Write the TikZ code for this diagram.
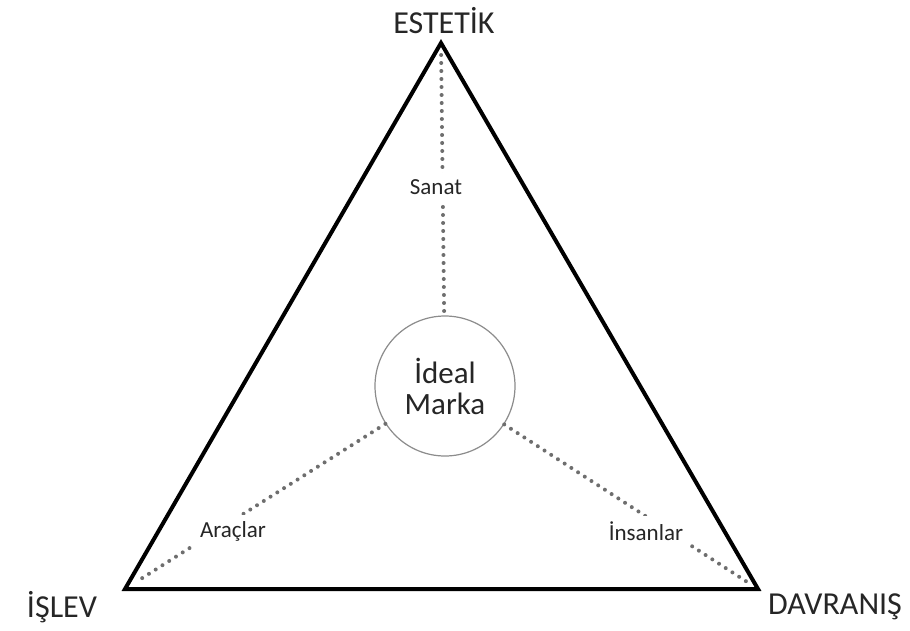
\documentclass[tikz,border=0pt]{standalone}
\usepackage{fontspec}
\setmainfont{Carlito}
\usepackage{tikz}
\definecolor{dot_gray}{RGB}{110, 110, 110}
\definecolor{ring_gray}{RGB}{140, 140, 140}
\tikzstyle{corner}=[font=\fontsize{32}{36}\selectfont,inner sep=0pt,text=black!85]
\tikzstyle{tag}=[font=\fontsize{23}{26}\selectfont,fill=white,inner sep=6pt,text=black!85]
\tikzstyle{ring}=[circle,draw=ring_gray,line width=1.2pt,fill=white,minimum size=140pt,
  inner sep=0pt,align=center,font=\fontsize{31}{31}\selectfont,text=black!85]
\tikzstyle{dots}=[draw=dot_gray,line width=4pt,line cap=round,dash pattern=on 0pt off 8pt]
\tikzstyle{edge}=[draw=black,line width=4pt,line join=miter]

\begin{document}
\begin{tikzpicture}[x=1pt,y=-1pt]
    \useasboundingbox (0,0) rectangle (910,630);
    \coordinate (top) at (441,43);
    \coordinate (left) at (125,589);
    \coordinate (right) at (758,589);
    \draw [style=edge] (left) to (top) to (right) -- cycle;
    \node [style=ring] (ideal) at (445,386) {\.Ideal\\Marka};
    \draw [style=dots, shorten <=12pt] (top) to (ideal);
    \draw [style=dots, shorten >=17pt] (ideal) to (left);
    \draw [style=dots, shorten >=10pt] (ideal) to (right);
    \node [style=tag] (art) at (436,187) {Sanat};
    \node [style=tag] (tools) at (233,531) {Araçlar};
    \node [style=tag] (people) at (646,531) {İnsanlar};
    \node [style=corner] (aes) at (444,21) {ESTETİK};
    \node [style=corner] (func) at (62,607) {İŞLEV};
    \node [style=corner] (behav) at (835,607) {DAVRANIŞ};
  \end{tikzpicture}
\end{document}
